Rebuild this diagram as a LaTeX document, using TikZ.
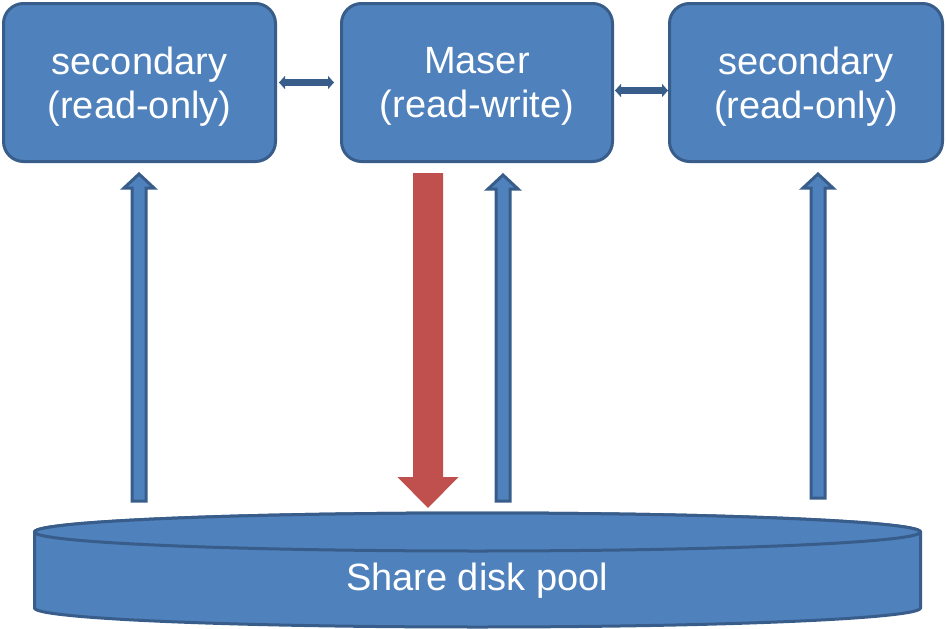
\documentclass[tikz,border=0pt]{standalone}
\usepackage{fontspec}
\setmainfont{Liberation Sans}
\usetikzlibrary{calc,arrows.meta}
\definecolor{fillblue}{HTML}{4F81BD}
\definecolor{edgeblue}{HTML}{385D8A}
\definecolor{redfill}{HTML}{C0504D}
\newcommand{\myuparrow}[2]{% #1 tip coordinate, #2 tail coordinate
  \draw[uparrowstyle] ($(#2)+(-7,0)$) -- ($(#1)+(-7,14)$) -- ($(#1)+(-15,14)$) -- (#1)
    -- ($(#1)+(15,14)$) -- ($(#1)+(7,14)$) -- ($(#2)+(7,0)$) -- cycle;}
\begin{document}
\begin{tikzpicture}[x=1pt,y=-1pt,
  boxstyle/.style={draw=edgeblue, fill=fillblue, line width=3pt, rounded corners=20pt,
    minimum height=158pt, inner sep=0pt},
  boxtext/.style={text=white, align=center, inner sep=0pt,
    font=\fontsize{38}{44}\selectfont},
  uparrowstyle/.style={draw=edgeblue, fill=fillblue, line width=3pt, line join=miter},
  linkstyle/.style={draw=edgeblue, line width=7pt, {Triangle[length=6pt,width=13pt]}-{Triangle[length=6pt,width=13pt]}},
  pooltext/.style={text=white, font=\fontsize{38}{44}\selectfont, inner sep=0pt}]
\useasboundingbox (0,0) rectangle (946,629);

\node[boxstyle, minimum width=272pt] (left) at (139.5,82.5) {};
\node[boxstyle, minimum width=271pt] (mid) at (477,82.5) {};
\node[boxstyle, minimum width=273pt] (right) at (806,82.5) {};
\node[boxtext] (leftT) at ($(left.center)+(0,4)$) {secondary\\(read-only)};
\node[boxtext] (midT) at ($(mid.center)+(0,4)$) {Maser\\(read-write)};
\node[boxtext] (rightT) at ($(right.center)+(0,4)$) {secondary\\(read-only)};

% cylinder
\draw[draw=edgeblue, fill=fillblue, line width=3pt]
  (34.5,532) -- (34.5,608) arc[start angle=180, end angle=360, x radius=443, y radius=-19]
  -- (920.5,532) arc[start angle=0, end angle=180, x radius=443, y radius=-19] -- cycle;
\draw[draw=edgeblue, fill=fillblue, line width=3pt] (477.5,532) ellipse[x radius=443, y radius=19];
\node[pooltext] (pool) at (477,581) {Share disk pool};

% side links
\draw[linkstyle] ($(left.east)+(2,0)$) -- ($(mid.west)+(-6,0)$);
\draw[linkstyle] ($(mid.east)+(1,8)$) -- ($(right.west)+(0,8)$);

% up arrows
\coordinate (tipL) at (139,174);
\coordinate (tailL) at (139,501);
\coordinate (tipM) at (503,175);
\coordinate (tailM) at (503,501);
\coordinate (tipR) at (818,174);
\coordinate (tailR) at (818,498);
\myuparrow{tipL}{tailL}
\myuparrow{tipM}{tailM}
\myuparrow{tipR}{tailR}

% red arrow
\coordinate (redtop) at (428,173);
\coordinate (redtip) at (428,508);
\fill[redfill] ($(redtop)+(-15,0)$) -- ($(redtip)+(-15,-31)$) -- ($(redtip)+(-30.5,-31)$) -- (redtip)
  -- ($(redtip)+(30.5,-31)$) -- ($(redtip)+(15,-31)$) -- ($(redtop)+(15,0)$) -- cycle;
\end{tikzpicture}
\end{document}
